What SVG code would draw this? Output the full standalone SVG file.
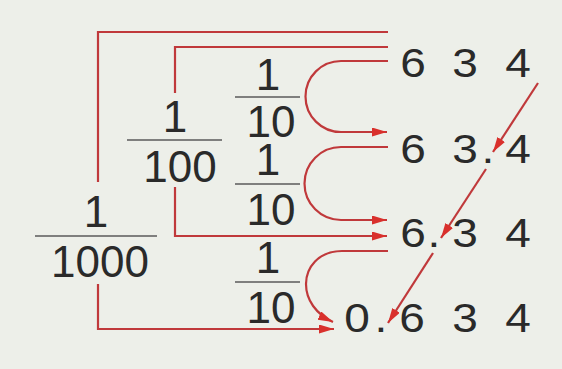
<svg xmlns="http://www.w3.org/2000/svg" width="562" height="369" viewBox="0 0 562 369">
<defs>
<style>
.bg{fill:#edefe9}
.frac{font-family:"Liberation Sans",Arial,sans-serif;font-size:44px;fill:#2a2a2a;text-anchor:middle}
.num{font-family:"Liberation Sans",Arial,sans-serif;font-size:40px;fill:#2a2a2a;text-anchor:middle}
.bar{stroke:#5a5a5a;stroke-width:1.6;fill:none}
.con{stroke:#c0393b;stroke-width:2.2;fill:none}
.arr{marker-end:url(#ah)}
</style>
<marker id="ah" markerUnits="userSpaceOnUse" markerWidth="16" markerHeight="10" refX="15" refY="4.5" orient="auto">
<path d="M0,0 L15,4.5 L0,9 Z" fill="#d9302c"/>
</marker>
</defs>
<rect class="bg" x="0" y="0" width="562" height="369"/>

<g id="connectors">
<path class="con" d="M98,182 V32 H388"/>
<path class="con arr" d="M98,284 V329 H334"/>
<path class="con" d="M175,93 V47 H388"/>
<path class="con arr" d="M175,187 V236 H387"/>
<path class="con arr" d="M388,61 H341 A35.5,35.5 0 0 0 341,132 H387"/>
<path class="con arr" d="M388,147 H341 A36.5,36.5 0 0 0 341,220 H387"/>
<path class="con arr" d="M388,251 H342 C318,251 306,268 306,284 C306,300 316,314 333,322"/>
<path class="con arr" d="M538,83 L493,152"/>
<path class="con arr" d="M486,169 L441,238"/>
<path class="con arr" d="M433,253 L388,323"/>
</g>

<g id="frac1000">
<text class="frac" x="96" y="227">1</text>
<line class="bar" x1="35" y1="236" x2="157" y2="236"/>
<text class="frac" x="100" y="277">1000</text>
</g>
<g id="frac100">
<text class="frac" x="175" y="132">1</text>
<line class="bar" x1="127" y1="140" x2="222" y2="140"/>
<text class="frac" x="180" y="182">100</text>
</g>
<g id="frac10a">
<text class="frac" x="268" y="90">1</text>
<line class="bar" x1="235" y1="97" x2="300" y2="97"/>
<text class="frac" x="271" y="137">10</text>
</g>
<g id="frac10b">
<text class="frac" x="268" y="175">1</text>
<line class="bar" x1="235" y1="184" x2="300" y2="184"/>
<text class="frac" x="271" y="225">10</text>
</g>
<g id="frac10c">
<text class="frac" x="268" y="273">1</text>
<line class="bar" x1="235" y1="282" x2="300" y2="282"/>
<text class="frac" x="271" y="323">10</text>
</g>

<g id="row1" transform="scale(1.15,1)"><text class="num" x="359.1 404.3 450.4" y="77">634</text></g>
<g id="row2" transform="scale(1.15,1)"><text class="num" x="359.1 404.3 424.3 450.4" y="163">63.4</text></g>
<g id="row3" transform="scale(1.15,1)"><text class="num" x="359.1 377.4 404.3 450.4" y="247">6.34</text></g>
<g id="row4" transform="scale(1.15,1)"><text class="num" x="310.4 331.3 358.3 404.3 450.4" y="332">0.634</text></g>
</svg>
